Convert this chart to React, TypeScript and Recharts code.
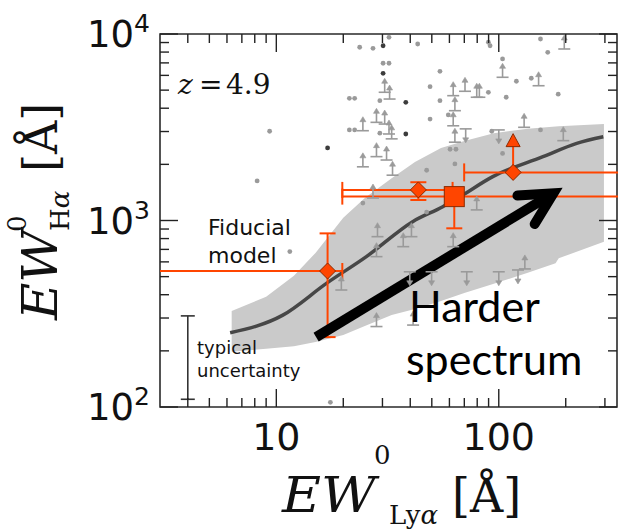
import React from 'react';
import {
  ComposedChart,
  XAxis,
  YAxis,
  Area,
  Line,
  Scatter,
  ErrorBar,
  ReferenceArea,
  ReferenceLine,
} from 'recharts';

const W = 618;
const H = 529;
const PLOT_L = 160;
const PLOT_T = 34;
const PLOT_R = 617;
const PLOT_B = 407;
const PLOT_W = PLOT_R - PLOT_L;
const PLOT_H = PLOT_B - PLOT_T;

const ORANGE = '#ff4500';
const ORANGE_EDGE = '#8a2a00';
const GRAY = '#9a9a9a';

// axis ticks
const xTicks = [4, 5, 6, 7, 8, 9, 10, 20, 30, 40, 50, 60, 70, 80, 90, 100, 200, 300];
const xLabelled = [10, 100];
const yTicks = [100, 200, 300, 400, 500, 600, 700, 800, 900, 1000, 2000, 3000, 4000, 5000, 6000, 7000, 8000, 9000, 10000];
const yLabelled = [100, 1000, 10000];

// fiducial model band and curve
const bandX = [6.3, 9, 12, 15, 20, 25, 33, 42, 55, 70, 95, 135, 180, 186, 297];
const bandLow = [198, 205, 212, 223, 243, 272, 311, 335, 370, 408, 458, 525, 589, 627, 770];
const bandHigh = [327, 390, 506, 670, 1035, 1320, 1683, 2060, 2450, 2670, 2940, 3100, 3190, 3200, 3290];

const modelX = [6.2, 10.7, 16.8, 25.4, 41, 56, 67, 94, 158, 224, 295];
const modelY = [250, 311, 460, 640, 986, 1186, 1342, 1718, 2198, 2594, 2813];

// individual galaxies (grey)
const dotX = [23.7, 27.2, 32.1, 43.2, 30.2, 32.1, 54.4, 49.1, 21.3, 22.5, 29.2, 54.4, 59.3, 49.1, 21.3, 22.5, 29.2, 91.4, 89.8, 154, 166, 104, 120, 140, 89.8, 108, 185, 154, 93, 63.5, 47.4, 60.4, 64.2, 104, 24.5, 47.4, 9.33, 8.2, 11.5, 17.5];
const dotY = [8490, 8380, 9600, 8840, 6970, 6970, 6310, 5220, 4520, 4520, 4390, 4390, 3680, 3500, 3060, 3060, 2940, 8650, 9030, 9400, 7980, 7350, 5580, 5790, 4870, 4580, 4760, 3060, 3010, 2010, 1860, 2410, 2410, 2290, 1240, 1110, 3010, 1630, 681, 106];

const darkX = [30.2, 30.2, 38.2, 38.2, 17.0];
const darkY = [8650, 6150, 4300, 2910, 2450];

const lowerX = [30.7, 32.3, 62.4, 70.5, 79.6, 63.5, 62.4, 24.5, 28.2, 30.7, 32.1, 33.0, 63.5, 197, 104, 151, 81.8, 130, 195, 28.2, 31.3, 24.5, 33.3, 27.2, 79.6, 28.5, 40.5, 28.2, 37.2, 62.4, 131, 19.6, 28.2, 41.2];
const lowerY = [4870, 4480, 4670, 4930, 4580, 3880, 3220, 3030, 3360, 3290, 2910, 2740, 2630, 8310, 5860, 5280, 4580, 3160, 2680, 2200, 2110, 1940, 1750, 1320, 1140, 819, 819, 640, 724, 724, 550, 424, 270, 275];

const upperX = [39.8, 49.9, 71.8, 100, 122, 71, 100];
const upperY = [531, 531, 531, 531, 543, 3100, 3060];

// stacked measurements (orange)
const diamondX = [17.0, 43.5];
const diamondY = [536, 1459];
const diamondXLo = [2.5, 19.8];
const diamondXHi = [19.8, 62];
const diamondYLo = [237, 1288];
const diamondYHi = [853, 1604];

const squareX = [63.1];
const squareY = [1343];
const squareXLo = [19.8];
const squareXHi = [600];
const squareYLo = [908];

const limitX = [116];
const limitY = [1811];
const limitXLo = [69.9];
const limitXHi = [600];
const limitYHi = [2648];

// annotations
const arrowFrom = { x: 15.1, y: 237 };
const arrowTo = { x: 176, y: 1400 };
const typicalX = 4;
const typicalLo = 110;
const typicalHi = 308;

const zip = (xs: number[], ys: number[]) => xs.map((x, i) => ({ x, y: ys[i] }));

const bandData = bandX.map((x, i) => ({ x, band: [bandLow[i], bandHigh[i]] }));
const modelData = zip(modelX, modelY);
const dotData = zip(dotX, dotY);
const darkData = zip(darkX, darkY);
const lowerData = zip(lowerX, lowerY);
const upperData = zip(upperX, upperY);
const diamondData = diamondX.map((x, i) => ({
  x,
  y: diamondY[i],
  ex: [x - diamondXLo[i], diamondXHi[i] - x],
  ey: [diamondY[i] - diamondYLo[i], diamondYHi[i] - diamondY[i]],
}));
const squareData = squareX.map((x, i) => ({
  x,
  y: squareY[i],
  ex: [x - squareXLo[i], squareXHi[i] - x],
  ey: [squareY[i] - squareYLo[i], 0],
}));
const limitData = limitX.map((x, i) => ({
  x,
  y: limitY[i],
  ex: [x - limitXLo[i], limitXHi[i] - x],
  ey: [0, limitYHi[i] - limitY[i]],
}));
const triangleData = zip(limitX, limitYHi);

const XTick = (props: any) => {
  const { x, y, payload } = props;
  const major = xLabelled.includes(payload.value);
  const len = major ? 18 : 9;
  return (
    <g>
      <line x1={x} x2={x} y1={y} y2={y - len} stroke="#222" strokeWidth={1.4} />
      <line x1={x} x2={x} y1={y - PLOT_H} y2={y - PLOT_H + len} stroke="#222" strokeWidth={1.4} />
      {major && (
        <text x={x} y={y + 43} textAnchor="middle" fontFamily="DejaVu Sans" fontSize={38} fill="#111">
          {payload.value}
        </text>
      )}
    </g>
  );
};

const YTick = (props: any) => {
  const { x, y, payload } = props;
  const major = yLabelled.includes(payload.value);
  const len = major ? 18 : 9;
  const exp = Math.round(Math.log10(payload.value));
  return (
    <g>
      <line x1={x} x2={x + len} y1={y} y2={y} stroke="#222" strokeWidth={1.4} />
      <line x1={x + PLOT_W} x2={x + PLOT_W - len} y1={y} y2={y} stroke="#222" strokeWidth={1.4} />
      {major && (
        <text x={x - 10} y={y + 13} textAnchor="end" fontFamily="DejaVu Sans" fontSize={37} fill="#111">
          10
          <tspan dy={-15} fontSize={25}>{exp}</tspan>
        </text>
      )}
    </g>
  );
};

const greyDot = (p: any) => <circle cx={p.cx} cy={p.cy} r={2.4} fill={GRAY} />;
const darkDot = (p: any) => <circle cx={p.cx} cy={p.cy} r={2.4} fill="#3c3c3c" />;

const lowerLimit = (p: any) => {
  const { cx, cy } = p;
  return (
    <g stroke={GRAY} strokeWidth={1.6} fill={GRAY}>
      <line x1={cx - 6} x2={cx + 6} y1={cy} y2={cy} />
      <line x1={cx} x2={cx} y1={cy} y2={cy - 10} />
      <path d={`M${cx - 3},${cy - 9} L${cx},${cy - 14} L${cx + 3},${cy - 9} Z`} strokeWidth={0.6} />
    </g>
  );
};

const upperLimit = (p: any) => {
  const { cx, cy } = p;
  return (
    <g stroke={GRAY} strokeWidth={1.6} fill={GRAY}>
      <line x1={cx - 6} x2={cx + 6} y1={cy} y2={cy} />
      <line x1={cx} x2={cx} y1={cy} y2={cy + 10} />
      <path d={`M${cx - 3},${cy + 9} L${cx},${cy + 14} L${cx + 3},${cy + 9} Z`} strokeWidth={0.6} />
    </g>
  );
};

const diamond = (p: any) => {
  const { cx, cy } = p;
  const r = 8;
  return (
    <path
      d={`M${cx},${cy - r} L${cx + r},${cy} L${cx},${cy + r} L${cx - r},${cy} Z`}
      fill={ORANGE}
      stroke={ORANGE_EDGE}
      strokeWidth={1}
    />
  );
};

const square = (p: any) => {
  const { cx, cy } = p;
  return <rect x={cx - 10} y={cy - 10} width={20} height={20} fill={ORANGE} stroke={ORANGE_EDGE} strokeWidth={1} />;
};

const triangle = (p: any) => {
  const { cx, cy } = p;
  return (
    <path
      d={`M${cx},${cy - 8} L${cx + 7},${cy + 5} L${cx - 7},${cy + 5} Z`}
      fill={ORANGE}
      stroke={ORANGE_EDGE}
      strokeWidth={1}
    />
  );
};

// x error bar that runs off the left edge of the frame: clip it there, cap only the right end
const LeftClippedBar = (p: any) => {
  const { x1, y1, x2, y2 } = p;
  const left = Math.max(Math.min(x1, x2), PLOT_L);
  const right = Math.max(x1, x2);
  return (
    <g stroke={ORANGE} strokeWidth={2}>
      <line x1={left} x2={right} y1={y1} y2={y2} />
      <line x1={right} x2={right} y1={y2 - 8} y2={y2 + 8} />
    </g>
  );
};

const ArrowShape = (p: any) => {
  const { x1, y1, x2, y2 } = p;
  const ang = Math.atan2(y2 - y1, x2 - x1);
  const len = 36;
  const spread = 0.48;
  const ax = x2 - len * Math.cos(ang - spread);
  const ay = y2 - len * Math.sin(ang - spread);
  const bx = x2 - len * Math.cos(ang + spread);
  const by = y2 - len * Math.sin(ang + spread);
  return (
    <g stroke="#000" strokeWidth={10} fill="none">
      <line x1={x1} y1={y1} x2={x2 - 4 * Math.cos(ang)} y2={y2 - 4 * Math.sin(ang)} />
      <polyline points={`${ax},${ay} ${x2},${y2} ${bx},${by}`} strokeLinecap="round" strokeLinejoin="miter" />
    </g>
  );
};

const UncertaintyShape = (p: any) => {
  const { x1, y1, x2, y2 } = p;
  return (
    <g stroke="#333" strokeWidth={1.6}>
      <line x1={x1} y1={y1} x2={x2} y2={y2} />
      <line x1={x1 - 7} x2={x1 + 7} y1={y1} y2={y1} />
      <line x1={x2 - 7} x2={x2 + 7} y1={y2} y2={y2} />
    </g>
  );
};

export default function App() {
  return (
    <div style={{ position: 'absolute', left: 0, top: 0, width: W, height: H, background: '#fff' }}>
      <ComposedChart width={W} height={H} margin={{ top: PLOT_T, right: W - PLOT_R, bottom: 0, left: 0 }}>
        <XAxis
          type="number"
          dataKey="x"
          scale="log"
          domain={[3, 340]}
          allowDataOverflow
          ticks={xTicks}
          interval={0}
          tick={XTick}
          tickLine={false}
          axisLine={false}
          tickSize={0}
          tickMargin={0}
          height={H - PLOT_B}
        />
        <YAxis
          type="number"
          dataKey="y"
          scale="log"
          domain={[100, 10000]}
          allowDataOverflow
          ticks={yTicks}
          interval={0}
          tick={YTick}
          tickLine={false}
          axisLine={false}
          tickSize={0}
          tickMargin={0}
          width={PLOT_L}
        />
        <Area
          data={bandData}
          dataKey="band"
          type="linear"
          fill="#cacaca"
          fillOpacity={1}
          stroke="none"
          isAnimationActive={false}
        />
        <Line
          data={modelData}
          dataKey="y"
          type="monotone"
          stroke="#474747"
          strokeWidth={3.5}
          dot={false}
          isAnimationActive={false}
        />
        <Scatter data={dotData} dataKey="y" shape={greyDot} isAnimationActive={false} />
        <Scatter data={darkData} dataKey="y" shape={darkDot} isAnimationActive={false} />
        <Scatter data={lowerData} dataKey="y" shape={lowerLimit} isAnimationActive={false} />
        <Scatter data={upperData} dataKey="y" shape={upperLimit} isAnimationActive={false} />
        <ReferenceLine
          segment={[
            { x: diamondXLo[0], y: diamondY[0] },
            { x: diamondXHi[0], y: diamondY[0] },
          ]}
          ifOverflow="visible"
          shape={LeftClippedBar}
        />
        <Scatter data={[diamondData[0]]} dataKey="y" shape={diamond} isAnimationActive={false}>
          <ErrorBar dataKey="ey" direction="y" width={8} stroke={ORANGE} strokeWidth={2} />
        </Scatter>
        <Scatter data={[diamondData[1]]} dataKey="y" shape={diamond} isAnimationActive={false}>
          <ErrorBar dataKey="ex" direction="x" width={8} stroke={ORANGE} strokeWidth={2} />
          <ErrorBar dataKey="ey" direction="y" width={8} stroke={ORANGE} strokeWidth={2} />
        </Scatter>
        <Scatter data={limitData} dataKey="y" shape={diamond} isAnimationActive={false}>
          <ErrorBar dataKey="ex" direction="x" width={9} stroke={ORANGE} strokeWidth={2} />
          <ErrorBar dataKey="ey" direction="y" width={0} stroke={ORANGE} strokeWidth={2} />
        </Scatter>
        <Scatter data={triangleData} dataKey="y" shape={triangle} isAnimationActive={false} />
        <Scatter data={squareData} dataKey="y" shape={square} isAnimationActive={false}>
          <ErrorBar dataKey="ex" direction="x" width={8} stroke={ORANGE} strokeWidth={2} />
          <ErrorBar dataKey="ey" direction="y" width={8} stroke={ORANGE} strokeWidth={2} />
        </Scatter>
        <ReferenceLine segment={[arrowFrom, arrowTo]} shape={ArrowShape} />
        <ReferenceLine
          segment={[{ x: typicalX, y: typicalHi }, { x: typicalX, y: typicalLo }]}
          shape={UncertaintyShape}
        />
        <ReferenceArea x1={3} x2={340} y1={100} y2={10000} fill="none" stroke="#2a2a2a" strokeWidth={1.6} />
      </ComposedChart>

      {/* text annotations and axis titles, kept on top of the plot */}
      <svg
        width={W}
        height={H}
        style={{ position: 'absolute', left: 0, top: 0, pointerEvents: 'none', overflow: 'visible' }}
      >
        <text x={178} y={94} fontFamily="DejaVu Serif" fontSize={28} fill="#111">
          <tspan fontStyle="italic">z</tspan>
          <tspan x={199}>=</tspan>
          <tspan x={226}>4.9</tspan>
        </text>
        <text fontFamily="DejaVu Sans" fontSize={22} fill="#111">
          <tspan x={208} y={235}>Fiducial</tspan>
          <tspan x={208} y={263}>model</tspan>
        </text>
        <text fontFamily="DejaVu Sans" fontSize={18} fill="#111">
          <tspan x={197} y={354}>typical</tspan>
          <tspan x={197} y={377}>uncertainty</tspan>
        </text>
        <text fontFamily="Lato" fontSize={43} fill="#000">
          <tspan x={409} y={322}>Harder</tspan>
          <tspan x={406} y={375}>spectrum</tspan>
        </text>

        <g fontFamily="DejaVu Serif" fill="#111">
          <text x={282} y={512} fontSize={49} fontStyle="italic" textLength={94} lengthAdjust="spacingAndGlyphs">
            EW
          </text>
          <text x={374} y={464} fontSize={26}>0</text>
          <text x={389} y={524} fontSize={26}>
            Ly<tspan fontStyle="italic">α</tspan>
          </text>
          <text x={452} y={512} fontSize={46}>[Å]</text>
        </g>
        <g transform="translate(57, 320) rotate(-90)" fontFamily="DejaVu Serif" fill="#111">
          <text x={0} y={0} fontSize={49} fontStyle="italic" textLength={90} lengthAdjust="spacingAndGlyphs">
            EW
          </text>
          <text x={88} y={-31} fontSize={26}>0</text>
          <text x={89} y={12} fontSize={26}>
            H<tspan fontStyle="italic">α</tspan>
          </text>
          <text x={148} y={0} fontSize={46}>[Å]</text>
        </g>
      </svg>
    </div>
  );
}
